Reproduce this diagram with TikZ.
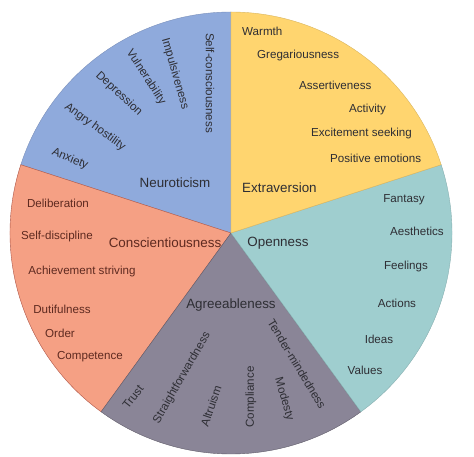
\documentclass[tikz,border=0pt]{standalone}
\usepackage{fontspec}
\setmainfont{Liberation Sans}
\usepackage{xcolor}
\usepackage{tikz}
\usetikzlibrary{positioning}

\definecolor{neuroblue}{HTML}{8FAADC}
\definecolor{extrayellow}{HTML}{FFD56F}
\definecolor{openteal}{HTML}{9FCECF}
\definecolor{agreegray}{HTML}{8A8597}
\definecolor{conscsalmon}{HTML}{F5A084}
\definecolor{consctext}{HTML}{5E2A20}
\definecolor{darktext}{HTML}{2E2E34}

\begin{document}
\begin{tikzpicture}[x=1pt, y=1pt,
    facet/.style={inner sep=0pt, text=darktext, font=\fontsize{11.6}{13}\selectfont},
    trait/.style={inner sep=0pt, text=darktext, font=\fontsize{13.4}{15}\selectfont},
    sector/.style={line width=0.4pt}]
  \useasboundingbox (-231,-224) rectangle (243,233);
  % the five sectors
  \filldraw[sector, fill=neuroblue, draw=neuroblue!85!black]
    (0,0) -- (90:221) arc[start angle=90, end angle=162, radius=221] -- cycle;
  \filldraw[sector, fill=conscsalmon, draw=conscsalmon!75!red!70!black]
    (0,0) -- (162:221) arc[start angle=162, end angle=234, radius=221] -- cycle;
  \filldraw[sector, fill=agreegray, draw=agreegray!70!black]
    (0,0) -- (234:221) arc[start angle=234, end angle=306, radius=221] -- cycle;
  \filldraw[sector, fill=openteal, draw=openteal!85!black]
    (0,0) -- (306:221) arc[start angle=306, end angle=378, radius=221] -- cycle;
  \filldraw[sector, fill=extrayellow, draw=extrayellow!85!black]
    (0,0) -- (18:221) arc[start angle=18, end angle=90, radius=221] -- cycle;

  % Neuroticism
  \node[trait] (neuro)    at (-56,50)   {Neuroticism};
  \node[facet, rotate=-90] (selfcon)  at (-21,150)  {Self-consciousness};
  \node[facet, rotate=-74] (impuls)   at (-56,159)  {Impulsiveness};
  \node[facet, rotate=-57] (vulner)   at (-85,156)  {Vulnerability};
  \node[facet, rotate=-43] (depress)  at (-112,139) {Depression};
  \node[facet, rotate=-36] (angry)    at (-136,106) {Angry hostility};
  \node[facet, rotate=-23] (anxiety)  at (-161,74)  {Anxiety};

  % Extraversion
  \node[trait, anchor=west] (extra)    at (11,45)   {Extraversion};
  \node[facet, anchor=west] (warmth)   at (11,202)  {Warmth};
  \node[facet, anchor=west] (greg)     at (26,177)  {Gregariousness};
  \node[facet, anchor=west] (assert)   at (68,148)  {Assertiveness};
  \node[facet, anchor=west] (activity) at (118,123) {Activity};
  \node[facet, anchor=west] (excite)   at (80,99)   {Excitement seeking};
  \node[facet, anchor=west] (positive) at (99,75)   {Positive emotions};

  % Openness
  \node[trait] (openness) at (47,-10)   {Openness};
  \node[facet] (fantasy)  at (173,33)   {Fantasy};
  \node[facet] (aesth)    at (186,2)    {Aesthetics};
  \node[facet] (feelings) at (175,-34)  {Feelings};
  \node[facet] (actions)  at (166,-70)  {Actions};
  \node[facet] (ideas)    at (148,-106) {Ideas};
  \node[facet] (values)   at (134,-137) {Values};

  % Agreeableness
  \node[trait] (agree) at (0,-72) {Agreeableness};
  \node[facet, rotate=52]  (trust)      at (-98,-164) {Trust};
  \node[facet, rotate=60]  (straight)   at (-49,-145) {Straightforwardness};
  \node[facet, rotate=71]  (altruism)   at (-20,-173) {Altruism};
  \node[facet, rotate=90]  (compliance) at (20,-164)  {Compliance};
  \node[facet, rotate=-74] (modesty)    at (53,-166)  {Modesty};
  \node[facet, rotate=-59] (tender)     at (66,-131)  {Tender-mindedness};

  % Conscientiousness
  \node[trait, text=consctext] (consc)   at (-66,-10)  {Conscientiousness};
  \node[facet, text=consctext] (delib)   at (-173,30)  {Deliberation};
  \node[facet, text=consctext] (selfdis) at (-174,-4)  {Self-discipline};
  \node[facet, text=consctext] (achieve) at (-149,-39) {Achievement striving};
  \node[facet, text=consctext] (dutiful) at (-169,-76) {Dutifulness};
  \node[facet, text=consctext] (order)   at (-171,-100) {Order};
  \node[facet, text=consctext] (compet)  at (-141,-124) {Competence};
\end{tikzpicture}
\end{document}
